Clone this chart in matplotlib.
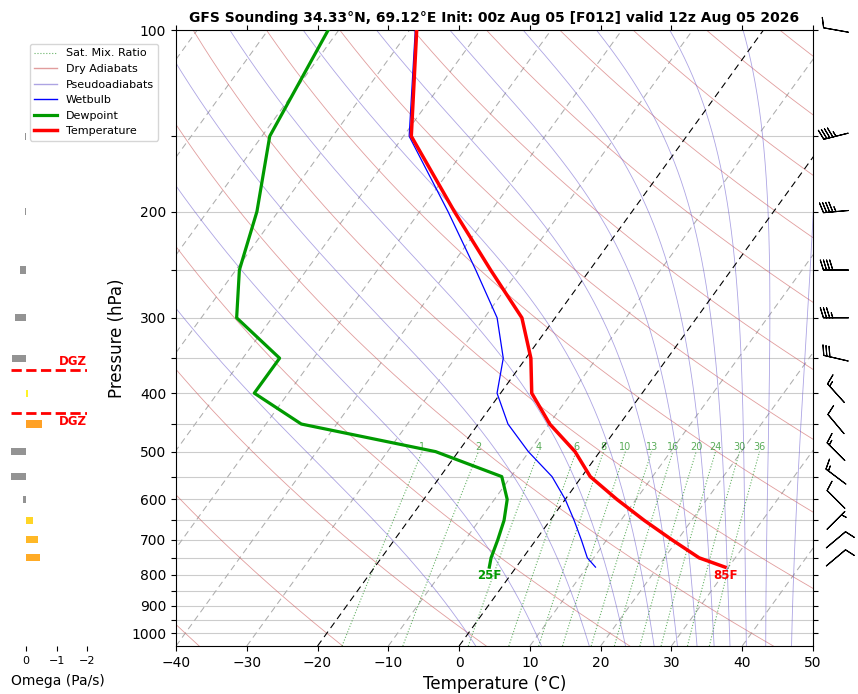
import numpy as np
import matplotlib.pyplot as plt
from matplotlib.ticker import FixedLocator, NullLocator
from matplotlib.lines import Line2D

title = 'GFS Sounding 34.33°N, 69.12°E Init: 00z Aug 05 [F012] valid 12z Aug 05 2026'

# sounding profile (hPa, degC), surface first
pres = np.array([777, 750, 700, 650, 600, 550, 500, 450, 400, 350, 300, 250, 200, 150, 100])
temp = np.array([29.5, 24.9, 19.2, 13.3, 7.3, 1.2, -3.5, -9.9, -15.6, -19.3, -24.7, -34.0, -45.1, -58.9, -69.0])
dwpt = np.array([-3.8, -4.5, -5.4, -6.5, -8.2, -11.3, -23.2, -45.0, -54.8, -54.8, -65.0, -69.5, -73.0, -78.9, -81.5])
wetb = np.array([11.2, 9.1, 6.4, 3.4, 0.0, -4.2, -10.1, -15.8, -20.5, -23.2, -28.2, -36.1, -46.0, -59.2, -69.2])

# winds (deg, kt)
wind_p = np.array([100, 150, 200, 250, 300, 350, 400, 450, 500, 550, 600, 650, 700, 750])
wind_dir = np.array([280, 256, 265, 270, 270, 283, 318, 320, 315, 307, 315, 45, 50, 50])
wind_spd = np.array([10, 45, 45, 40, 35, 30, 15, 10, 15, 15, 10, 5, 10, 10])

# omega (Pa/s)
omega_p = np.array([150, 200, 250, 300, 350, 400, 450, 500, 550, 600, 650, 700, 750])
omega = np.array([0.03, 0.03, 0.2, 0.36, 0.46, -0.07, -0.52, 0.49, 0.49, 0.11, -0.23, -0.39, -0.46])

mix_ratios = [1, 2, 4, 6, 8, 10, 13, 16, 20, 24, 30, 36]

P_BOT, P_TOP = 1050, 100
SKEW = 61.7  # degC shift per decade of pressure


def skx(t, p):
    return np.asarray(t) + SKEW * np.log10(P_BOT / np.asarray(p))


def sat_vp(tc):
    return 6.112 * np.exp(17.67 * tc / (tc + 243.5))


def dtdp(p, tk):
    e = sat_vp(tk - 273.15)
    rs = 0.622 * e / (p - e)
    num = 287.04 * tk + 2.501e6 * rs
    den = 1005.7 + 2.501e6 ** 2 * rs * 0.622 / (287.04 * tk ** 2)
    return num / den / p


def moist_lapse(t_start, p):
    t = np.array(t_start, float) + 273.15
    out = [t.copy()]
    for p1, p2 in zip(p[:-1], p[1:]):
        h = p2 - p1
        k1 = dtdp(p1, t)
        k2 = dtdp(p1 + h / 2, t + h / 2 * k1)
        k3 = dtdp(p1 + h / 2, t + h / 2 * k2)
        k4 = dtdp(p2, t + h * k3)
        t = t + h / 6 * (k1 + 2 * k2 + 2 * k3 + k4)
        out.append(t.copy())
    return np.array(out).T - 273.15


fig = plt.figure(figsize=(8.58, 6.94), dpi=100)
ax = fig.add_axes([176 / 858, 48 / 694, 637 / 858, 616 / 694])
ax.set_yscale('log')
ax.set_ylim(P_BOT, P_TOP)
ax.set_xlim(-40, 50)

plevs = np.geomspace(P_BOT, P_TOP, 300)

# isotherms
for t in range(-110, 51, 10):
    if t in (0, -20):
        ax.plot(skx([t, t], [P_BOT, P_TOP]), [P_BOT, P_TOP], color='k', ls=(0, (6, 4)), lw=0.8, zorder=2)
    else:
        ax.plot(skx([t, t], [P_BOT, P_TOP]), [P_BOT, P_TOP], color='0.68', ls=(0, (6, 4)), lw=0.75, zorder=1)

# dry adiabats
for th in np.arange(-40, 321, 20):
    tt = (th + 273.15) * (plevs / 1000.0) ** 0.2857 - 273.15
    ax.plot(skx(tt, plevs), plevs, color='indianred', lw=0.6, alpha=0.6, zorder=1)

# pseudoadiabats, started at the top and integrated downward
pdown = np.geomspace(P_TOP, P_BOT, 400)
th_top = np.arange(10, 251, 20) + 273.15
t_top = th_top * (P_TOP / 1000.0) ** 0.2857 - 273.15
for row in moist_lapse(t_top, pdown):
    ax.plot(skx(row, pdown), pdown, color='slateblue', lw=0.6, alpha=0.55, zorder=1)

# saturation mixing ratio lines
pmix = np.geomspace(P_BOT, 500, 60)
for w in mix_ratios:
    e = (w / 1000.0) * pmix / (0.622 + w / 1000.0)
    ln = np.log(e / 6.112)
    td = 243.5 * ln / (17.67 - ln)
    ax.plot(skx(td, pmix), pmix, color='g', ls=':', lw=0.8, alpha=0.6, zorder=1)
    ax.text(skx(td[-1], 500), 500, str(w), ha='center', va='bottom',
            fontsize=7, color='g', alpha=0.65)

# profiles
ax.plot(skx(wetb, pres), pres, color='blue', lw=0.9, zorder=5)
ax.plot(skx(dwpt, pres), pres, color='#009a00', lw=2.3, zorder=6)
ax.plot(skx(temp, pres), pres, color='red', lw=2.5, zorder=7)

ax.annotate('%dF' % round(temp[0] * 9 / 5 + 32), (skx(temp[0], pres[0]), pres[0]),
            xytext=(0, -1), textcoords='offset points', ha='center', va='top',
            color='red', fontweight='bold', fontsize=8.5)
ax.annotate('%dF' % round(dwpt[0] * 9 / 5 + 32), (skx(dwpt[0], pres[0]), pres[0]),
            xytext=(0, -1), textcoords='offset points', ha='center', va='top',
            color='#009a00', fontweight='bold', fontsize=8.5)

yt = list(range(100, 1001, 50))
ax.yaxis.set_major_locator(FixedLocator(yt))
ax.yaxis.set_minor_locator(NullLocator())
ax.set_yticklabels([str(p) if p % 100 == 0 else '' for p in yt])
ax.set_xticks(range(-40, 51, 10))
ax.tick_params(axis='both', labelsize=10)
ax.tick_params(axis='y', right=True)
ax.tick_params(axis='x', top=True)
ax.yaxis.grid(True, color='#cccccc', lw=0.8)
ax.set_axisbelow(True)
ax.set_xlabel('Temperature (°C)', fontsize=12)
ax.set_ylabel('Pressure (hPa)', fontsize=12)
ax.set_title(title, fontsize=10, fontweight='bold', pad=6)

# omega panel
oax = fig.add_axes([11 / 858, 48 / 694, 76 / 858, 616 / 694])
oax.set_yscale('log')
oax.set_ylim(P_BOT, P_TOP)
oax.set_xlim(0.5, -2)
for s in oax.spines.values():
    s.set_visible(False)
oax.yaxis.set_major_locator(NullLocator())
oax.yaxis.set_minor_locator(NullLocator())
oax.set_xticks([0, -1, -2])
oax.tick_params(axis='x', labelsize=8)
oax.set_xlabel('Omega (Pa/s)', fontsize=10)
oax.xaxis.set_label_coords(0.62, -0.045)
cols = ['#808080' if w >= 0 else plt.cm.autumn_r(min(-w / 1.2, 1.0)) for w in omega]
oax.barh(omega_p, omega, height=omega_p * 0.027, color=cols, alpha=0.85)

logp = np.log10(pres[::-1])
p_m12 = 10 ** np.interp(-12, temp[::-1], logp)
p_m18 = 10 ** np.interp(-18, temp[::-1], logp)
for pp in (p_m12, p_m18):
    oax.axhline(pp, color='red', ls='--', lw=2)
oax.annotate('DGZ', (-2, p_m18), xytext=(0, 2), textcoords='offset points', ha='right', va='bottom',
             color='red', fontweight='bold', fontsize=8.5)
oax.annotate('DGZ', (-2, p_m12), xytext=(0, -2), textcoords='offset points', ha='right', va='top',
             color='red', fontweight='bold', fontsize=8.5)

# wind barbs
bax = fig.add_axes([813 / 858, 48 / 694, 45 / 858, 616 / 694])
bax.set_yscale('log')
bax.set_ylim(P_BOT, P_TOP)
bax.set_xlim(0, 1)
bax.axis('off')
rad = np.deg2rad(wind_dir)
u = -wind_spd * np.sin(rad)
v = -wind_spd * np.cos(rad)
bax.barbs(np.full(len(wind_p), 0.51), wind_p, u, v, length=6, pivot='middle', lw=0.8, clip_on=False)

handles = [
    Line2D([], [], color='g', ls=':', lw=0.8, alpha=0.6, label='Sat. Mix. Ratio'),
    Line2D([], [], color='indianred', lw=1, alpha=0.6, label='Dry Adiabats'),
    Line2D([], [], color='slateblue', lw=1, alpha=0.55, label='Pseudoadiabats'),
    Line2D([], [], color='blue', lw=1, label='Wetbulb'),
    Line2D([], [], color='#009a00', lw=2.3, label='Dewpoint'),
    Line2D([], [], color='red', lw=2.5, label='Temperature'),
]
fig.legend(handles=handles, loc='upper left', bbox_to_anchor=(30 / 858, 1 - 44 / 694),
           borderaxespad=0, fontsize=8)

fig.savefig('out.png', dpi=100)
